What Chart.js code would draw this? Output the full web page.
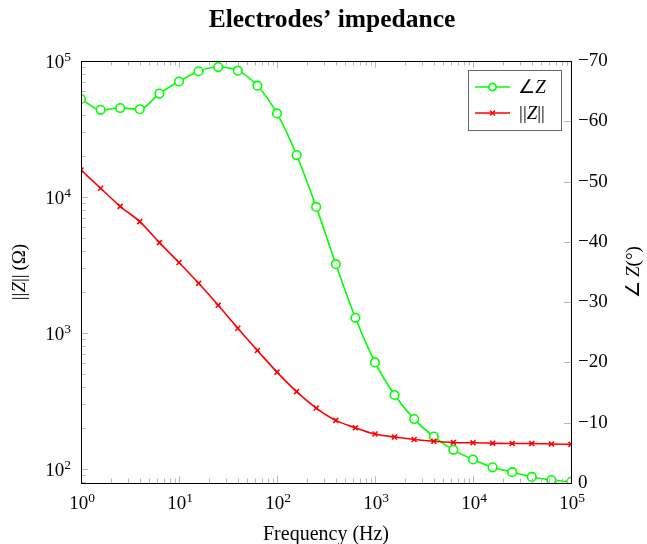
<!DOCTYPE html>
<html>
<head>
<meta charset="utf-8">
<script src="https://cdn.jsdelivr.net/npm/chart.js@4"></script>
<style>
  html, body { margin: 0; padding: 0; background: #fff; }
  #wrap { width: 647px; height: 544px; position: relative; }
</style>
</head>
<body>
<div id="wrap"><canvas id="chart"></canvas></div>
<script>
// frequencies (Hz), five points per decade
const frequency = [1, 1.585, 2.512, 3.981, 6.310, 10, 15.85, 25.12, 39.81, 63.10,
  100, 158.5, 251.2, 398.1, 631.0, 1000, 1585, 2512, 3981, 6310,
  10000, 15849, 25119, 39811, 63096, 100000];

// phase of Z in degrees (right axis)
const phase = [-63.7, -61.9, -62.2, -62.0, -64.6, -66.6, -68.3, -69.0, -68.4, -65.9,
  -61.3, -54.4, -45.8, -36.3, -27.4, -20.0, -14.6, -10.6, -7.7, -5.5,
  -3.9, -2.6, -1.8, -1.0, -0.5, -0.2];

// magnitude of Z in ohms (left axis)
const magnitude = [15800, 11600, 8540, 6590, 4620, 3300, 2320, 1600, 1085, 745,
  516, 371, 281, 228, 201, 181, 172, 165, 160, 157,
  156, 155, 154, 154, 153, 152];

const xTicks = [1, 2, 3, 4, 5, 6, 7, 8, 9, 10, 20, 30, 40, 50, 60, 70, 80, 90,
  100, 200, 300, 400, 500, 600, 700, 800, 900, 1000, 2000, 3000, 4000, 5000, 6000, 7000, 8000, 9000,
  10000, 20000, 30000, 40000, 50000, 60000, 70000, 80000, 90000, 100000];
const yTicks = [80, 90, 100, 200, 300, 400, 500, 600, 700, 800, 900, 1000,
  2000, 3000, 4000, 5000, 6000, 7000, 8000, 9000, 10000,
  20000, 30000, 40000, 50000, 60000, 70000, 80000, 90000, 100000];
const angleTicks = [-70, -60, -50, -40, -30, -20, -10, 0];

const SERIF = '"Liberation Serif", "Times New Roman", serif';

function isDecade(v) {
  const l = Math.log10(v);
  return Math.abs(l - Math.round(l)) < 1e-9;
}

// draw a row of text pieces (italic / raised allowed), centred or right aligned on x
function drawRuns(ctx, runs, x, y, size, align) {
  let total = 0;
  runs.forEach(r => {
    ctx.font = (r.it ? 'italic ' : '') + (r.size || size) + 'px ' + SERIF;
    r.w = ctx.measureText(r.t).width;
    total += r.w;
  });
  let cx = align === 'right' ? x - total : x - total / 2;
  ctx.textAlign = 'left';
  runs.forEach(r => {
    ctx.font = (r.it ? 'italic ' : '') + (r.size || size) + 'px ' + SERIF;
    ctx.fillText(r.t, cx, y - (r.up || 0));
    cx += r.w;
  });
}
function powerRuns(v) {
  return [{ t: '10' }, { t: String(Math.round(Math.log10(v))), size: 13.5, up: 7.5 }];
}

const decor = {
  id: 'decor',
  afterDraw(chart) {
    const ctx = chart.ctx;
    const a = chart.chartArea;
    const xs = chart.scales.x, ys = chart.scales.y, ya = chart.scales.y1;
    ctx.save();

    // tick marks pointing inward
    ctx.strokeStyle = '#b8b8b8';
    ctx.lineWidth = 1;
    ctx.beginPath();
    xTicks.forEach(v => {
      const px = Math.round(xs.getPixelForValue(v)) + 0.5;
      const len = isDecade(v) ? 7 : 4.5;
      ctx.moveTo(px, a.bottom); ctx.lineTo(px, a.bottom - len);
      ctx.moveTo(px, a.top); ctx.lineTo(px, a.top + len);
    });
    yTicks.forEach(v => {
      const py = Math.round(ys.getPixelForValue(v)) + 0.5;
      const len = isDecade(v) ? 7 : 4.5;
      ctx.moveTo(a.left, py); ctx.lineTo(a.left + len, py);
    });
    angleTicks.forEach(v => {
      const py = Math.round(ya.getPixelForValue(v)) + 0.5;
      ctx.moveTo(a.right, py); ctx.lineTo(a.right - 7, py);
    });
    ctx.stroke();

    // frame
    ctx.strokeStyle = '#000';
    ctx.strokeRect(a.left + 0.5, a.top + 0.5, a.right - a.left, a.bottom - a.top);

    // decade tick labels with raised exponents
    ctx.fillStyle = '#000';
    ctx.textBaseline = 'alphabetic';
    xTicks.filter(isDecade).forEach(v => {
      drawRuns(ctx, powerRuns(v), xs.getPixelForValue(v) + 1, a.bottom + 26, 19);
    });
    yTicks.filter(isDecade).forEach(v => {
      drawRuns(ctx, powerRuns(v), a.left - 10, ys.getPixelForValue(v) + 7, 19, 'right');
    });

    // legend
    const lx = 468, ly = 70, lw = 93, lh = 60;
    ctx.fillStyle = '#fff';
    ctx.fillRect(lx, ly, lw, lh);
    ctx.strokeStyle = '#666';
    ctx.strokeRect(lx + 0.5, ly + 0.5, lw, lh);
    const rows = [
      { ds: chart.data.datasets[0], y: ly + 17, runs: [{ t: '\u2220' }, { t: 'Z', it: true }] },
      { ds: chart.data.datasets[1], y: ly + 43, runs: [{ t: '||' }, { t: 'Z', it: true }, { t: '||' }] }
    ];
    rows.forEach(r => {
      ctx.strokeStyle = r.ds.borderColor;
      ctx.lineWidth = 1.5;
      ctx.beginPath();
      ctx.moveTo(475, r.y); ctx.lineTo(510, r.y);
      ctx.stroke();
      Chart.helpers.drawPoint(ctx, {
        pointStyle: r.ds.pointStyle, radius: 3.5, borderWidth: 1.5, rotation: 0
      }, 492.5, r.y);
      if (r.ds.pointStyle === 'circle') {
        ctx.fillStyle = '#fff';
        ctx.fill();
        ctx.stroke();
      }
      ctx.fillStyle = '#000';
      ctx.textBaseline = 'middle';
      drawRuns(ctx, r.runs, 532, r.y + 1, 19);
    });

    // titles
    ctx.fillStyle = '#000';
    ctx.textBaseline = 'alphabetic';
    ctx.textAlign = 'center';
    ctx.font = 'bold 25.5px ' + SERIF;
    ctx.fillText('Electrodes\u2019 impedance', 332, 27);

    drawRuns(ctx, [{ t: 'Frequency (Hz)' }], (a.left + a.right) / 2, 540, 20);

    const cy = (a.top + a.bottom) / 2;
    ctx.save();
    ctx.translate(25, cy);
    ctx.rotate(-Math.PI / 2);
    drawRuns(ctx, [{ t: '||' }, { t: 'Z', it: true }, { t: '||\u2009(\u03a9)' }], 0, 0, 19);
    ctx.restore();

    ctx.save();
    ctx.translate(639, cy);
    ctx.rotate(-Math.PI / 2);
    drawRuns(ctx, [{ t: '\u2220\u2009' }, { t: 'Z', it: true }, { t: '(\u00b0)' }], 0, 0, 19);
    ctx.restore();

    ctx.restore();
  }
};

new Chart(document.getElementById('chart'), {
  type: 'line',
  data: {
    datasets: [
      {
        label: '\u2220Z',
        data: frequency.map((f, i) => ({ x: f, y: phase[i] })),
        yAxisID: 'y1',
        borderColor: '#00ff00',
        backgroundColor: '#ffffff',
        borderWidth: 1.6,
        pointStyle: 'circle',
        pointRadius: 4.3,
        pointBorderWidth: 1.6,
        pointBackgroundColor: '#ffffff',
        cubicInterpolationMode: 'monotone',
        order: 1
      },
      {
        label: '\u2016Z\u2016',
        data: frequency.map((f, i) => ({ x: f, y: magnitude[i] })),
        yAxisID: 'y',
        borderColor: '#ff0000',
        backgroundColor: '#ff0000',
        borderWidth: 1.6,
        pointStyle: 'crossRot',
        pointRadius: 3.5,
        pointBorderWidth: 1.6,
        cubicInterpolationMode: 'monotone',
        order: 0
      }
    ]
  },
  options: {
    responsive: true,
    maintainAspectRatio: false,
    animation: false,
    layout: { padding: { top: 61, left: 0, right: 0, bottom: 0 } },
    plugins: {
      legend: { display: false },
      title: { display: false },
      tooltip: { enabled: false }
    },
    scales: {
      x: {
        type: 'logarithmic',
        position: 'bottom',
        min: 1,
        max: 100000,
        grid: { display: false, drawTicks: false },
        border: { display: false },
        ticks: { display: false },
        afterBuildTicks: sc => { sc.ticks = xTicks.map(v => ({ value: v })); },
        afterFit: sc => { sc.height = 61; }
      },
      y: {
        type: 'logarithmic',
        position: 'left',
        min: 79,
        max: 100000,
        grid: { display: false, drawTicks: false },
        border: { display: false },
        ticks: { display: false },
        afterBuildTicks: sc => { sc.ticks = yTicks.map(v => ({ value: v })); },
        afterFit: sc => { sc.width = 81; }
      },
      y1: {
        type: 'linear',
        position: 'right',
        reverse: true,
        min: -70,
        max: 0,
        grid: { display: false, drawTicks: false },
        border: { display: false },
        ticks: {
          stepSize: 10, padding: 7,
          color: '#000', font: { family: SERIF, size: 19 },
          callback: v => v < 0 ? '\u2212' + Math.abs(v) : '0'
        },
        afterBuildTicks: sc => { sc.ticks = angleTicks.map(v => ({ value: v })); },
        afterFit: sc => { sc.width = 76; }
      }
    }
  },
  plugins: [decor]
});
</script>
</body>
</html>
